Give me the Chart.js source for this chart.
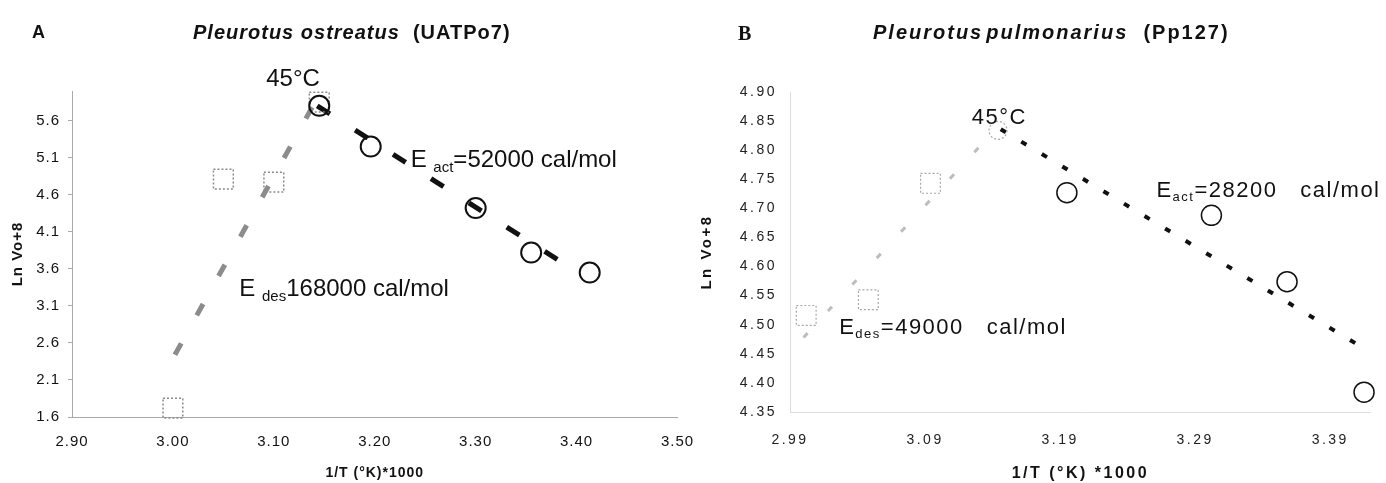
<!DOCTYPE html>
<html>
<head>
<meta charset="utf-8">
<script src="https://cdn.jsdelivr.net/npm/chart.js@4.4.1/dist/chart.umd.min.js"></script>
<style>
  body { margin: 0; background: #fff; }
  #wrap { position: relative; width: 1386px; height: 483px; overflow: hidden; font-family: "Liberation Sans", Arial, sans-serif; color: #111; }
  canvas { position: absolute; top: 0; }
  .lbl { position: absolute; white-space: pre; line-height: 20px; font-weight: bold; }
</style>
</head>
<body>
<div id="wrap">
  <canvas id="chartA" width="693" height="483" style="left:0"></canvas>
  <canvas id="chartB" width="693" height="483" style="left:693px"></canvas>
  <div class="lbl" style="left:32px;top:22px;font-size:18px">A</div>
  <div class="lbl" style="left:193px;top:22px;font-size:20px;letter-spacing:1px"><i>Pleurotus ostreatus</i>  (UATPo7)</div>
  <div class="lbl" style="left:738px;top:23px;font-size:20px;font-family:'Liberation Serif','Times New Roman',serif">B</div>
  <div class="lbl" style="left:873px;top:22px;font-size:20px;letter-spacing:2px"><i>Pleurotus</i><i style="margin-left:3px">pulmonarius</i>  (Pp127)</div>
</div>
<script>
// panel A - Pleurotus ostreatus (UATPo7)
const sqXA = [3.00, 3.05, 3.10, 3.145];
const sqYA = [1.72, 4.81, 4.77, 5.85];
const circXA = [3.145, 3.196, 3.30, 3.355, 3.413];
const circYA = [5.80, 5.25, 4.42, 3.82, 3.55];
const desXA = [3.002, 3.142];
const desYA = [2.44, 5.88];
const actXA = [3.143, 3.388];
const actYA = [5.80, 3.665];
const xTicksA = [2.90, 3.00, 3.10, 3.20, 3.30, 3.40, 3.50];
const yTicksA = [1.6, 2.1, 2.6, 3.1, 3.6, 4.1, 4.6, 5.1, 5.6];

// panel B - Pleurotus pulmonarius (Pp127)
const sqXB = [3.002, 3.048, 3.094, 3.144];
const sqYB = [4.516, 4.543, 4.743, 4.834];
const circXB = [3.195, 3.302, 3.358, 3.415];
const circYB = [4.727, 4.688, 4.574, 4.384];
const desXB = [3.000, 3.143];
const desYB = [4.478, 4.838];
const actXB = [3.146, 3.418];
const actYB = [4.836, 4.455];
const xTicksB = [2.99, 3.09, 3.19, 3.29, 3.39];
const yTicksB = [4.35, 4.40, 4.45, 4.50, 4.55, 4.60, 4.65, 4.70, 4.75, 4.80, 4.85, 4.90];

// text labels: [text, isSubscript]
const notesA = [
  { x: 3.0925, y: 6.067, parts: [['45°C', 0]] },
  { x: 3.2356, y: 4.98, parts: [['E ', 0], ['act', 1], ['=52000 cal/mol', 0]] },
  { x: 3.0658, y: 3.23, parts: [['E ', 0], ['des', 1], ['168000 cal/mol', 0]] }
];
const notesB = [
  { x: 3.1245, y: 4.845, parts: [['45°C', 0]] },
  { x: 3.2613, y: 4.719, parts: [['E', 0], ['act', 1], ['=28200   cal/mol', 0]] },
  { x: 3.0264, y: 4.484, parts: [['E', 0], ['des', 1], ['=49000   cal/mol', 0]] }
];

Chart.defaults.font.family = '"Liberation Sans", Arial, sans-serif';
Chart.defaults.color = '#111';

const pts = (xs, ys) => xs.map((x, i) => ({ x, y: ys[i] }));

// dotted outlines for the grey markers
const dottedMarkers = {
  id: 'dottedMarkers',
  beforeDatasetDraw(chart, args) {
    const ds = chart.data.datasets[args.index];
    if (ds.markerDash) chart.ctx.setLineDash(ds.markerDash);
  },
  afterDatasetDraw(chart) { chart.ctx.setLineDash([]); }
};

function spacing(px) {
  return { id: 'spacing', beforeDraw(chart) { chart.ctx.letterSpacing = px + 'px'; } };
}

function notes(items, size, subSize, subDrop, gap) {
  return {
    id: 'notes',
    afterDraw(chart) {
      const { ctx, scales: { x, y } } = chart;
      ctx.save();
      ctx.fillStyle = '#111';
      ctx.textBaseline = 'alphabetic';
      ctx.textAlign = 'left';
      ctx.letterSpacing = gap + 'px';
      items.forEach(n => {
        let px = x.getPixelForValue(n.x);
        const py = y.getPixelForValue(n.y);
        n.parts.forEach(([txt, sub]) => {
          ctx.font = (sub ? subSize : size) + 'px "Liberation Sans", Arial, sans-serif';
          ctx.fillText(txt, px, py + (sub ? subDrop : 0));
          px += ctx.measureText(txt).width;
        });
      });
      ctx.restore();
    }
  };
}

function axes(o) {
  return {
    x: {
      type: 'linear', min: o.xMin, max: o.xMax,
      afterBuildTicks: s => { s.ticks = o.xTicks.map(v => ({ value: v })); },
      afterFit: s => { s.height = o.xHeight; s.paddingLeft = 0; s.paddingRight = 0; },
      grid: { display: false, drawTicks: false },
      border: { display: true, color: o.axisColor, dash: o.axisDash },
      ticks: { padding: o.xPad, font: { size: o.tickSize }, color: o.tickColor, maxRotation: 0, autoSkip: false, callback: v => v.toFixed(2) },
      title: { display: true, text: o.xTitle, font: { size: o.xTitleSize, weight: 'bold' }, padding: { top: 0, bottom: o.xTitlePad } }
    },
    y: {
      type: 'linear', min: o.yMin, max: o.yMax,
      afterBuildTicks: s => { s.ticks = o.yTicks.map(v => ({ value: v })); },
      afterFit: s => { s.width = o.yWidth; s.paddingTop = 0; s.paddingBottom = 0; },
      grid: { drawOnChartArea: false, drawTicks: o.yTickLen > 0, tickLength: o.yTickLen, color: o.axisColor },
      border: { display: true, color: o.axisColor, dash: o.axisDash },
      ticks: { padding: o.yPad, font: { size: o.tickSize }, color: o.tickColor, autoSkip: false, callback: v => v.toFixed(o.yDec) },
      title: { display: true, text: 'Ln Vo+8', font: { size: 15, weight: 'bold' }, padding: { top: o.yTitlePad, bottom: 0 } }
    }
  };
}

new Chart(document.getElementById('chartA'), {
  type: 'scatter',
  data: {
    datasets: [
      { data: pts(circXA, circYA), pointStyle: 'circle', pointRadius: 10, borderColor: '#111', borderWidth: 2, backgroundColor: 'transparent', clip: false },
      { data: pts(sqXA, sqYA), pointStyle: 'rect', pointRadius: 14, borderColor: '#8a8a8a', borderWidth: 1.5, backgroundColor: 'transparent', markerDash: [2, 2], clip: false },
      { data: pts(actXA, actYA), showLine: true, pointRadius: 0, borderColor: '#111', borderWidth: 5, borderDash: [15, 30] },
      { data: pts(desXA, desYA), showLine: true, pointRadius: 0, borderColor: '#8c8c8c', borderWidth: 5, borderDash: [13, 32] }
    ]
  },
  options: {
    responsive: false,
    animation: false,
    layout: { padding: { top: 91, right: 13, bottom: 0, left: 0 } },
    plugins: { legend: { display: false }, tooltip: { enabled: false } },
    scales: axes({
      xMin: 2.90, xMax: 3.50, xTicks: xTicksA, xHeight: 66, xPad: 16,
      yMin: 1.6, yMax: 6.0, yTicks: yTicksA, yWidth: 72, yPad: 8, yTickLen: 4, yDec: 1,
      tickSize: 15, tickColor: '#111', axisColor: '#aaa', axisDash: [1, 4],
      xTitle: '1/T (°K)*1000', xTitleSize: 14, xTitlePad: 1.6, yTitlePad: 9
    })
  },
  plugins: [dottedMarkers, spacing(1), notes(notesA, 24, 15, 5, 0)]
});

new Chart(document.getElementById('chartB'), {
  type: 'scatter',
  data: {
    datasets: [
      { data: pts(circXB, circYB), pointStyle: 'circle', pointRadius: 10, borderColor: '#111', borderWidth: 1.5, backgroundColor: 'transparent', clip: false },
      { data: pts(sqXB, sqYB), pointStyle: ['rect', 'rect', 'rect', 'circle'], pointRadius: [14, 14, 14, 9], borderColor: '#a8a8a8', borderWidth: 1.2, backgroundColor: 'transparent', markerDash: [2, 2], clip: false },
      { data: pts(actXB, actYB), showLine: true, pointRadius: 0, borderColor: '#111', borderWidth: 4, borderDash: [6, 18] },
      { data: pts(desXB, desYB), showLine: true, pointRadius: 0, borderColor: '#bdbdbd', borderWidth: 3, borderDash: [6, 30] }
    ]
  },
  options: {
    responsive: false,
    animation: false,
    layout: { padding: { top: 92, right: 5, bottom: 0, left: 0 } },
    plugins: { legend: { display: false }, tooltip: { enabled: false } },
    scales: axes({
      xMin: 2.99, xMax: 3.42, xTicks: xTicksB, xHeight: 71, xPad: 20,
      yMin: 4.35, yMax: 4.90, yTicks: yTicksB, yWidth: 97, yPad: 13, yTickLen: 0, yDec: 2,
      tickSize: 14, tickColor: '#222', axisColor: '#ddd', axisDash: [1, 6],
      xTitle: '1/T (°K) *1000', xTitleSize: 16, xTitlePad: 0, yTitlePad: 4.5
    })
  },
  plugins: [dottedMarkers, spacing(2.5), notes(notesB, 22, 13, 4, 1.5)]
});
</script>
</body>
</html>
